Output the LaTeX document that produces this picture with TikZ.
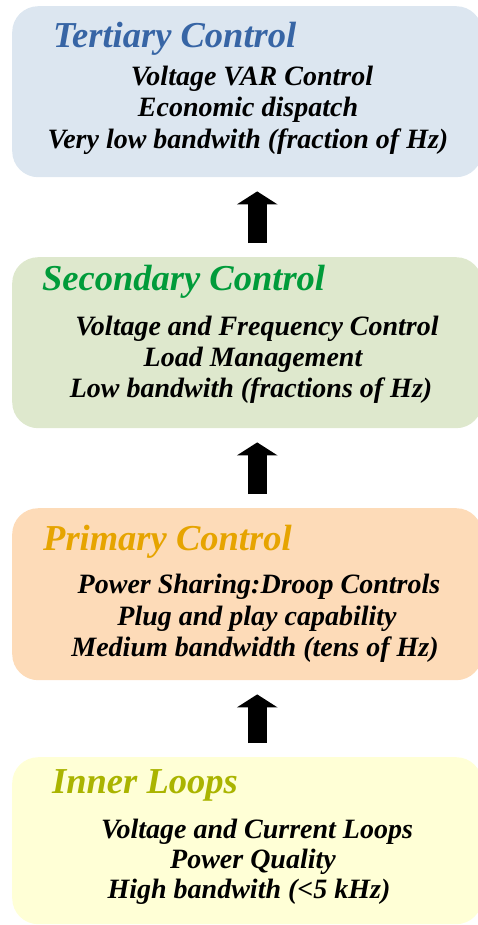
\documentclass[tikz,border=0pt]{standalone}
\usepackage{fontspec}
\setmainfont{Liberation Serif}
\usetikzlibrary{arrows.meta}

\definecolor{terfill}{HTML}{DCE6F0}
\definecolor{tertitle}{HTML}{3765A5}
\definecolor{secfill}{HTML}{DEE8CD}
\definecolor{sectitle}{HTML}{009B3A}
\definecolor{prifill}{HTML}{FDDBB8}
\definecolor{prititle}{HTML}{E6A400}
\definecolor{innfill}{HTML}{FFFFD6}
\definecolor{inntitle}{HTML}{AAB400}

\tikzset{
  levelbox/.style={rectangle, rounded corners=26pt, draw=none,
    minimum width=470pt, inner sep=0pt, anchor=north west},
  title/.style={anchor=base west, inner sep=0pt,
    font=\fontsize{36.5}{40}\selectfont\bfseries\itshape},
  body/.style={anchor=base, inner sep=0pt,
    font=\fontsize{28}{32}\selectfont\bfseries\itshape},
  blockarrow/.style={line width=19pt,
    -{Triangle[width=40pt,length=13pt]}, shorten <=14pt, shorten >=14pt}
}

\begin{document}
\begin{tikzpicture}[x=1pt, y=-1pt]
\useasboundingbox (0,0) rectangle (477,925);

% the four control levels
\node[levelbox, fill=terfill, minimum height=171pt] (ter) at (12,6) {};
\node[levelbox, fill=secfill, minimum height=171pt] (sec) at (12,257) {};
\node[levelbox, fill=prifill, minimum height=172pt] (pri) at (12,508) {};
\node[levelbox, fill=innfill, minimum height=167pt] (inn) at (12,757) {};

% tertiary level
\node[title, text=tertitle] (terT) at (53,48) {Tertiary Control};
\node[body] (ter1) at (252,86) {Voltage VAR Control};
\node[body] (ter2) at (248,117) {Economic dispatch};
\node[body] (ter3) at (248,149) {Very low bandwith (fraction of Hz)};

% secondary level
\node[title, text=sectitle] (secT) at (42,290) {Secondary Control};
\node[body] (sec1) at (257,335) {Voltage and Frequency Control};
\node[body] (sec2) at (253,366) {Load Management};
\node[body] (sec3) at (251,397) {Low bandwith (fractions of Hz)};

% primary level
\node[title, text=prititle] (priT) at (43,550) {Primary Control};
\node[body] (pri1) at (259,593) {Power Sharing:Droop Controls};
\node[body] (pri2) at (257,625) {Plug and play capability};
\node[body] (pri3) at (255,656) {Medium bandwidth (tens of Hz)};

% inner loops
\node[title, text=inntitle] (innT) at (52,793) {Inner Loops};
\node[body] (inn1) at (257,838) {Voltage and Current Loops};
\node[body] (inn2) at (253,868) {Power Quality};
\node[body] (inn3) at (249,898) {High bandwith (<5 kHz)};

% upward arrows between the levels
\draw[blockarrow] ([xshift=10pt]sec.north) -- ([xshift=10pt]ter.south);
\draw[blockarrow] ([xshift=10pt]pri.north) -- ([xshift=10pt]sec.south);
\draw[blockarrow] ([xshift=10pt]inn.north) -- ([xshift=10pt]pri.south);
\end{tikzpicture}
\end{document}
